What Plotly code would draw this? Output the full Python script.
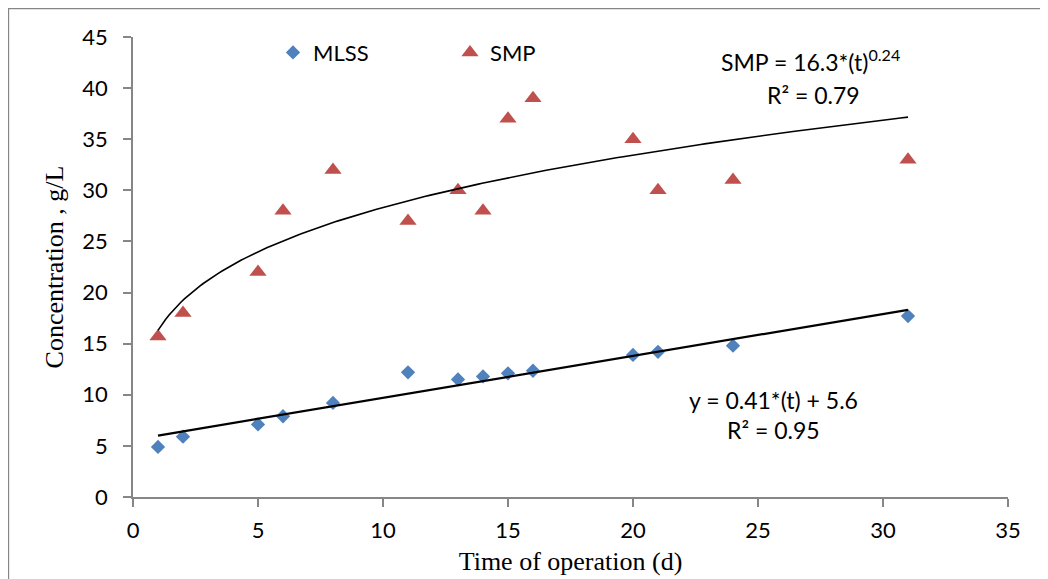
import plotly.graph_objects as go
import numpy as np

# Data
days = [1, 2, 5, 6, 8, 11, 13, 14, 15, 16, 20, 21, 24, 31]
mlss = [4.9, 5.9, 7.1, 7.9, 9.2, 12.2, 11.5, 11.8, 12.1, 12.35, 13.9, 14.2, 14.8, 17.7]
smp = [15.7, 18.0, 22.0, 28.0, 32.0, 27.0, 30.0, 28.0, 37.0, 39.0, 35.0, 30.0, 31.0, 33.0]

# Trendline coefficients as printed on the chart
lin_slope, lin_icpt = 0.41, 5.6
pow_a, pow_b = 16.3, 0.24

x_ticks = [0, 5, 10, 15, 20, 25, 30, 35]
y_ticks = [0, 5, 10, 15, 20, 25, 30, 35, 40, 45]

t_fit = np.linspace(min(days), max(days), 200)
lin_fit = lin_slope * t_fit + lin_icpt
pow_fit = pow_a * t_fit ** pow_b

TICK_FONT = "Lato, 'Open Sans', sans-serif"
SERIF = "'Liberation Serif', 'Times New Roman', serif"
AXIS_GREY = "#868686"

fig = go.Figure()
fig.add_trace(go.Scatter(x=days, y=mlss, mode="markers", name="MLSS",
                         marker=dict(symbol="diamond", size=11, color="#4F81BD")))
fig.add_trace(go.Scatter(x=days, y=smp, mode="markers", name="SMP",
                         marker=dict(symbol="triangle-up", size=15, color="#C0504D")))
fig.add_trace(go.Scatter(x=t_fit, y=pow_fit, mode="lines", showlegend=False,
                         line=dict(color="black", width=1.6), hoverinfo="skip"))
fig.add_trace(go.Scatter(x=t_fit, y=lin_fit, mode="lines", showlegend=False,
                         line=dict(color="black", width=2.2), hoverinfo="skip"))

ann_font = dict(family=TICK_FONT, size=23, color="black")
fig.add_annotation(x=27.1, y=42.7, xref="x", yref="y", showarrow=False,
                   text="SMP = 16.3*(t)<sup>0.24</sup>", font=ann_font)
fig.add_annotation(x=27.2, y=39.35, xref="x", yref="y", showarrow=False,
                   text="R² = 0.79", font=ann_font)
fig.add_annotation(x=25.6, y=9.5, xref="x", yref="y", showarrow=False,
                   text="y = 0.41*(t) + 5.6", font=ann_font)
fig.add_annotation(x=25.6, y=6.55, xref="x", yref="y", showarrow=False,
                   text="R² = 0.95", font=ann_font)

# outer frame
fig.add_shape(type="rect", xref="paper", yref="paper",
              x0=-0.1422, x1=1.1, y0=-0.3, y1=1.0615,
              line=dict(color=AXIS_GREY, width=1.2), fillcolor="rgba(0,0,0,0)")

fig.update_layout(
    width=1048, height=579,
    margin=dict(l=125, r=48, t=29, b=90),
    paper_bgcolor="white", plot_bgcolor="white",
    showlegend=True,
    legend=dict(orientation="h", x=0.160, y=0.966, xanchor="left", yanchor="middle",
                font=dict(family=TICK_FONT, size=22, color="black"),
                bgcolor="rgba(0,0,0,0)", itemwidth=30,
                entrywidth=132, entrywidthmode="pixels"),
    xaxis=dict(range=[0, 35], tickvals=x_ticks, showgrid=False, zeroline=False,
               showline=True, linecolor=AXIS_GREY, linewidth=1.5,
               ticks="outside", ticklen=8, tickcolor=AXIS_GREY, tickwidth=1.5,
               tickfont=dict(family=TICK_FONT, size=22, color="black"),
               ticklabelstandoff=5,
               title=dict(text="Time of operation (d)",
                          font=dict(family=SERIF, size=26, color="black"), standoff=10)),
    yaxis=dict(range=[0, 45], tickvals=y_ticks, showgrid=False, zeroline=False,
               showline=True, linecolor=AXIS_GREY, linewidth=1.5,
               ticks="outside", ticklen=8, tickcolor=AXIS_GREY, tickwidth=1.5,
               tickfont=dict(family=TICK_FONT, size=22, color="black"),
               ticklabelstandoff=11,
               title=dict(text="Concentration , g/L",
                          font=dict(family=SERIF, size=26, color="black"), standoff=11)),
)

fig.write_html("out.html")
